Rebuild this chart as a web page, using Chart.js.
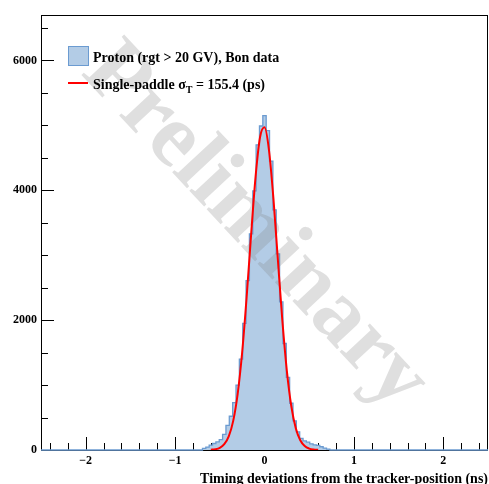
<!DOCTYPE html>
<html>
<head>
<meta charset="utf-8">
<script src="https://cdn.jsdelivr.net/npm/chart.js@4"></script>
<style>
  body { margin: 0; background: #fff; }
  canvas { display: block; }
</style>
</head>
<body>
<canvas id="timingChart" width="489" height="484"></canvas>
<script>
// Histogram: bins of 0.0375 ns, first bin starts at binLow
const binLow = -0.69375;
const binWidth = 0.0375;
const counts = [
  25, 45, 75, 100, 125, 160, 240, 380, 520, 730,
  1000, 1400, 1950, 2610, 3330, 3990, 4700, 4990, 5150, 4920,
  4450, 3700, 3020, 2280, 1640, 1120, 720, 450, 280, 180,
  140, 120, 95, 80, 70, 50, 30, 15
];

// Gaussian fit curve
const fitX = [-0.60, -0.55, -0.50, -0.45, -0.40, -0.35, -0.30, -0.25, -0.20, -0.15, -0.10, -0.05,
  0.00, 0.05, 0.10, 0.15, 0.20, 0.25, 0.30, 0.35, 0.40, 0.45, 0.50, 0.55, 0.60];
const fitY = [4, 12, 34, 89, 210, 449, 866, 1502, 2350, 3312, 4207, 4817,
  4970, 4620, 3871, 2923, 1988, 1220, 674, 336, 151, 61, 22, 7, 2];

const xTickLabels = [-2, -1, 0, 1, 2];
const yTickLabels = [0, 2000, 4000, 6000];

const serif = '"Liberation Serif", "DejaVu Serif", serif';
const histFill = '#b3cce6';
const histLine = '#6b9bd1';

// step points at the left edge of each bin
const histPoints = [{ x: -2.5, y: 0 }];
counts.forEach((c, i) => histPoints.push({ x: binLow + i * binWidth, y: c }));
histPoints.push({ x: binLow + counts.length * binWidth, y: 0 });
histPoints.push({ x: 2.5, y: 0 });

const fitPoints = fitX.map((x, i) => ({ x: x, y: fitY[i] }));

// frame + inward ticks, drawn like ROOT
const framePlugin = {
  id: 'frame',
  beforeDatasetsDraw(chart) {
    const { ctx, chartArea: a, scales } = chart;
    ctx.save();
    ctx.strokeStyle = '#000';
    ctx.lineWidth = 1;
    ctx.strokeRect(a.left + 0.5, a.top + 0.5, a.right - a.left - 1, a.bottom - a.top);
    ctx.beginPath();
    for (let v = -2.4; v <= 2.41; v += 0.2) {
      const px = Math.round(scales.x.getPixelForValue(v)) + 0.5;
      const major = Math.abs(v - Math.round(v)) < 0.01;
      ctx.moveTo(px, a.bottom);
      ctx.lineTo(px, a.bottom - (major ? 13 : 7));
    }
    for (let v = 500; v < 6700; v += 500) {
      const py = Math.round(scales.y.getPixelForValue(v)) + 0.5;
      const major = v % 2000 === 0;
      ctx.moveTo(a.left, py);
      ctx.lineTo(a.left + (major ? 13 : 7), py);
    }
    ctx.stroke();
    ctx.restore();
  },
  afterDatasetDraw(chart, args) {
    if (args.index !== 0) return;
    // "Preliminary" watermark over the histogram, under the fit
    const ctx = chart.ctx;
    ctx.save();
    ctx.translate(255, 227);
    ctx.rotate(47 * Math.PI / 180);
    ctx.font = 'bold 90px ' + serif;
    ctx.fillStyle = 'rgba(128,128,128,0.25)';
    ctx.textAlign = 'center';
    ctx.textBaseline = 'middle';
    ctx.fillText('Preliminary', 0, 0);
    ctx.restore();
  },
  afterDraw(chart) {
    const ctx = chart.ctx;
    ctx.save();
    // legend
    ctx.fillStyle = histFill;
    ctx.fillRect(68, 46, 20, 19);
    ctx.strokeStyle = histLine;
    ctx.lineWidth = 1;
    ctx.strokeRect(68.5, 46.5, 20, 19);
    ctx.strokeStyle = '#ff0000';
    ctx.lineWidth = 2;
    ctx.beginPath();
    ctx.moveTo(68, 83);
    ctx.lineTo(88, 83);
    ctx.stroke();

    ctx.fillStyle = '#000';
    ctx.textBaseline = 'alphabetic';
    ctx.font = 'bold 14px ' + serif;
    ctx.fillText('Proton (rgt > 20 GV), Bon data', 93, 62);
    let x = 93;
    const s1 = 'Single-paddle \u03c3';
    ctx.fillText(s1, x, 89);
    x += ctx.measureText(s1).width;
    ctx.font = 'bold 10px ' + serif;
    ctx.fillText('T', x, 93);
    x += ctx.measureText('T').width;
    ctx.font = 'bold 14px ' + serif;
    ctx.fillText(' = 155.4 (ps)', x, 89);

    // x axis title
    ctx.font = 'bold 14px ' + serif;
    ctx.textAlign = 'right';
    ctx.fillText('Timing deviations from the tracker-position (ns)', 488, 483);
    ctx.restore();
  }
};

const chart = new Chart(document.getElementById('timingChart').getContext('2d'), {
  type: 'line',
  data: {
    datasets: [{
      label: 'Proton (rgt > 20 GV), Bon data',
      data: histPoints,
      order: 1,
      stepped: true,
      fill: 'origin',
      backgroundColor: histFill,
      borderColor: histLine,
      borderWidth: 1.3,
      pointRadius: 0,
      clip: 3
    }, {
      label: 'Single-paddle fit',
      data: fitPoints,
      order: 0,
      borderColor: '#ff0000',
      borderWidth: 2,
      pointRadius: 0,
      fill: false,
      cubicInterpolationMode: 'monotone'
    }]
  },
  options: {
    responsive: false,
    animation: false,
    layout: { padding: { top: 15, right: 1, left: 0, bottom: 0 } },
    plugins: { legend: { display: false }, tooltip: { enabled: false } },
    scales: {
      x: {
        type: 'linear',
        min: -2.5,
        max: 2.5,
        grid: { display: false, drawTicks: false },
        border: { display: false },
        afterBuildTicks: s => { s.ticks = xTickLabels.map(v => ({ value: v })); },
        afterFit: s => { s.height = 34; },
        ticks: {
          color: '#000',
          padding: 4,
          maxRotation: 0,
          font: { family: serif, size: 12, weight: 'bold' },
          callback: v => (v < 0 ? '\u2212' + Math.abs(v) : String(v))
        }
      },
      y: {
        min: 0,
        max: 6700,
        grid: { display: false, drawTicks: false },
        border: { display: false },
        afterBuildTicks: s => { s.ticks = yTickLabels.map(v => ({ value: v })); },
        afterFit: s => { s.width = 41; },
        ticks: {
          color: '#000',
          padding: 4,
          font: { family: serif, size: 12, weight: 'bold' },
          callback: v => String(v)
        }
      }
    }
  },
  plugins: [framePlugin]
});
</script>
</body>
</html>
